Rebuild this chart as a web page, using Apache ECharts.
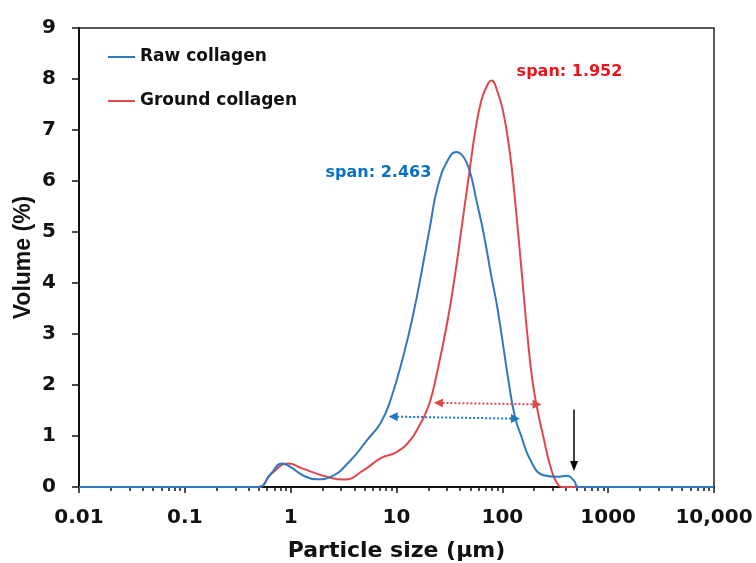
<!DOCTYPE html>
<html><head><meta charset="utf-8">
<script src="https://cdn.jsdelivr.net/npm/echarts@6/dist/echarts.min.js"></script>
<style>html,body{margin:0;padding:0;background:#fff}#c{width:756px;height:563px}</style>
</head><body><div id="c"></div>
<script>
// ---- data ----
const rawSize   = [0.01, 0.49, 0.65, 0.83, 1.0, 1.3, 1.78, 2.38, 3.67, 5.27, 7.05, 8.77, 11.7, 14.6, 17.2, 20.7, 24.6, 30.8, 36.8, 43, 49.4, 56.9, 66.2, 78.9, 90, 118, 133, 148, 185, 246, 330, 410, 473, 527, 10000];
const rawVolume = [0, 0, 0.26, 0.46, 0.39, 0.23, 0.15, 0.20, 0.52, 0.92, 1.25, 1.7, 2.6, 3.45, 4.2, 5.1, 5.9, 6.42, 6.57, 6.47, 6.18, 5.62, 5.0, 4.12, 3.5, 1.9, 1.34, 1.05, 0.52, 0.23, 0.2, 0.22, 0.13, 0, 0];
const groundSize   = [0.01, 0.49, 0.65, 0.95, 1.3, 2.2, 3.2, 4.9, 7.05, 10.1, 13.5, 16.8, 18.8, 20.9, 23.3, 30, 35.5, 41, 44.8, 49.4, 55.7, 62.8, 69.2, 78.9, 90, 102, 117, 130, 151, 173, 192, 213, 246, 285, 330, 380, 10000];
const groundVolume = [0, 0, 0.25, 0.46, 0.36, 0.2, 0.145, 0.33, 0.56, 0.69, 0.92, 1.24, 1.44, 1.70, 2.09, 3.2, 4.12, 5.05, 5.62, 6.25, 7.0, 7.55, 7.8, 7.97, 7.75, 7.35, 6.6, 5.75, 4.3, 2.95, 2.1, 1.55, 0.95, 0.4, 0.07, 0, 0];

const seriesNames = ['Raw collagen', 'Ground collagen'];
const xMajorTicks = [0.01, 0.1, 1, 10, 100, 1000, 10000];
const xTickLabels = ['0.01', '0.1', '1', '10', '100', '1000', '10,000'];
const minorMultipliers = [2, 3, 4, 5, 6, 7, 8, 9];
const yMin = 0, yMax = 9, yStep = 1;

// annotations (data space)
const rawSpanArrow = [[9.3, 1.38], [133, 1.34]];
const groundSpanArrow = [[24.9, 1.65], [213, 1.62]];
const coarseArrow = [[476, 1.52], [476, 0.41]];
const rawSpanText = 'span: 2.463', rawSpanAt = [6.75, 6.16];
const groundSpanText = 'span: 1.952', groundSpanAt = [431, 8.14];

// ---- build ----
const xMinorTicks = [];
xMajorTicks.slice(0, -1).forEach(d => minorMultipliers.forEach(m => xMinorTicks.push(+(d * m).toPrecision(6))));
const zip = (xs, ys) => xs.map((x, i) => [x, ys[i]]);

const BLUE = '#2E78C2', RED = '#E0474C';
const FONT = 'DejaVu Sans';

const chart = echarts.init(document.getElementById('c'), null, {renderer: 'canvas'});
chart.setOption({
  animation: false,
  backgroundColor: '#fff',
  grid: {left: 79, right: 42, top: 28, bottom: 76, containLabel: false, outerBoundsMode: 'none',
    show: true, borderColor: '#222', borderWidth: 1.5, backgroundColor: 'transparent'},
  legend: {
    data: seriesNames, orient: 'vertical', left: 103, top: 42,
    icon: 'rect', itemWidth: 27, itemHeight: 2, itemGap: 24,
    textStyle: {fontFamily: FONT, fontWeight: 'bold', fontSize: 17, color: '#111', lineHeight: 20}
  },
  xAxis: [{
    type: 'log', logBase: 10, min: 0.01, max: 10000,
    name: 'Particle size (μm)', nameLocation: 'middle', nameGap: 53,
    nameTextStyle: {fontFamily: FONT, fontWeight: 'bold', fontSize: 22, color: '#111'},
    axisLine: {show: true, onZero: false, lineStyle: {color: '#111', width: 2}},
    axisTick: {show: true, inside: false, length: 6, customValues: xMajorTicks, lineStyle: {color: '#111', width: 1.5}},
    axisLabel: {show: true, margin: 21, customValues: xMajorTicks,
      fontFamily: FONT, fontWeight: 'bold', fontSize: 20, color: '#111',
      formatter: v => xTickLabels[Math.round(Math.log10(v)) + 2]},
    splitLine: {show: false}, minorTick: {show: false}
  }, {
    type: 'log', logBase: 10, min: 0.01, max: 10000, position: 'bottom',
    axisLine: {show: false},
    axisTick: {show: true, inside: false, length: 4, customValues: xMinorTicks, lineStyle: {color: '#111', width: 1.5}},
    axisLabel: {show: false}, splitLine: {show: false}
  }],
  yAxis: {
    type: 'value', min: yMin, max: yMax, interval: yStep,
    name: 'Volume (%)', nameLocation: 'middle', nameGap: 44, nameMoveOverlap: false,
    nameTextStyle: {fontFamily: 'Liberation Sans', fontWeight: 'bold', fontSize: 23, color: '#111'},
    axisLine: {show: true, lineStyle: {color: '#111', width: 2}},
    axisTick: {show: true, inside: false, length: 7, lineStyle: {color: '#111', width: 1.5}},
    axisLabel: {margin: 23, fontFamily: FONT, fontWeight: 'bold', fontSize: 20, color: '#111'},
    splitLine: {show: false}
  },
  series: [{
    name: seriesNames[0], type: 'line', data: zip(rawSize, rawVolume),
    showSymbol: false, smooth: 0.5, color: BLUE,
    lineStyle: {color: BLUE, width: 2}, silent: true, z: 3,
    markLine: {
      silent: true, symbol: ['triangle', 'triangle'], symbolSize: 9,
      label: {show: false},
      lineStyle: {color: '#1F74C4', type: 'dotted', width: 2},
      data: [[{coord: rawSpanArrow[0]}, {coord: rawSpanArrow[1]}]]
    },
    markPoint: {
      silent: true, symbol: 'circle', symbolSize: 1, itemStyle: {color: 'transparent'},
      label: {show: true, position: 'inside', color: '#0A70C0', fontFamily: FONT, fontWeight: 'bold', fontSize: 16},
      data: [{coord: rawSpanAt, value: rawSpanText, label: {formatter: rawSpanText}}]
    }
  }, {
    name: seriesNames[1], type: 'line', data: zip(groundSize, groundVolume),
    showSymbol: false, smooth: 0.5, color: RED,
    lineStyle: {color: RED, width: 2}, silent: true, z: 2,
    markLine: {
      silent: true, symbol: ['triangle', 'triangle'], symbolSize: 9,
      label: {show: false},
      lineStyle: {color: '#E04848', type: 'dotted', width: 2},
      data: [
        [{coord: groundSpanArrow[0]}, {coord: groundSpanArrow[1]}],
        [{coord: coarseArrow[0], symbol: 'none', lineStyle: {color: '#000', type: 'solid', width: 1.5}},
         {coord: coarseArrow[1], symbol: 'triangle', symbolSize: [8, 10], lineStyle: {color: '#000', type: 'solid', width: 1.5}}]
      ]
    },
    markPoint: {
      silent: true, symbol: 'circle', symbolSize: 1, itemStyle: {color: 'transparent'},
      label: {show: true, position: 'inside', color: '#E8161C', fontFamily: FONT, fontWeight: 'bold', fontSize: 16},
      data: [{coord: groundSpanAt, value: groundSpanText, label: {formatter: groundSpanText}}]
    }
  }]
});
</script>
</body></html>
